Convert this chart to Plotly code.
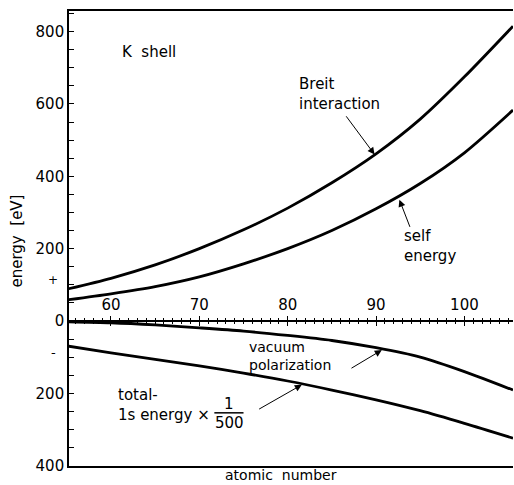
import plotly.graph_objects as go

# ---- data ----
atomic_number = [55, 60, 65, 70, 75, 80, 85, 90, 95, 100, 105.5]
breit_interaction = [88, 118, 155, 200, 252, 312, 382, 462, 558, 675, 815]
self_energy = [58, 75, 95, 122, 158, 200, 250, 310, 380, 465, 583]
vacuum_polarization = [-2, -5, -11, -19, -28, -40, -54, -74, -100, -140, -191]
total_1s_over_500 = [-69, -88, -106, -124, -144, -166, -191, -218, -248, -283, -324]

y_tickvals = [-400, -200, 0, 200, 400, 600, 800]
y_ticktext = ["400", "200", "0", "200", "400", "600", "800"]
x_tickvals = [60, 70, 80, 90, 100]

X_RANGE = [55.25, 105.5]
Y_RANGE = [-401, 857]
FONT = "DejaVu Sans"
LS = 15  # label font size

fig = go.Figure()
for series in (breit_interaction, self_energy, vacuum_polarization, total_1s_over_500):
    fig.add_trace(go.Scatter(x=atomic_number, y=series, mode="lines",
                             line=dict(color="black", width=2.8, shape="spline",
                                       smoothing=0.8),
                             showlegend=False, hoverinfo="skip"))

zero_pos = (0 - Y_RANGE[0]) / (Y_RANGE[1] - Y_RANGE[0])

fig.update_layout(
    width=514, height=485, autosize=False,
    margin=dict(l=69, r=1, t=11, b=19, pad=0),
    paper_bgcolor="white", plot_bgcolor="white",
    font=dict(family=FONT, size=LS, color="black"),
    xaxis=dict(range=X_RANGE, showgrid=False, zeroline=False, showline=True,
               mirror=True, linecolor="black", linewidth=1.5, ticks="",
               showticklabels=False),
    xaxis2=dict(range=X_RANGE, overlaying="x", anchor="free", position=zero_pos,
                side="top", showgrid=False, zeroline=False, showline=True,
                linecolor="black", linewidth=1.6, ticks="outside", ticklen=4,
                tickwidth=1.3, tickcolor="black", tickvals=x_tickvals,
                tickfont=dict(family=FONT, size=15, color="black"),
                minor=dict(dtick=1, tick0=0, ticks="outside", ticklen=2.5,
                           tickwidth=1, tickcolor="black")),
    xaxis3=dict(range=X_RANGE, overlaying="x", anchor="free", position=zero_pos,
                side="bottom", showgrid=False, zeroline=False, showline=False,
                ticks="outside", ticklen=4, tickwidth=1.3, tickcolor="black",
                tickvals=x_tickvals, showticklabels=False,
                minor=dict(dtick=1, tick0=0, ticks="outside", ticklen=2.5,
                           tickwidth=1, tickcolor="black")),
    yaxis=dict(range=Y_RANGE, showgrid=False, zeroline=False, showline=True,
               linecolor="black", linewidth=1.6, ticks="inside", ticklen=5,
               tickwidth=1.2, tickcolor="black", tickvals=y_tickvals,
               ticktext=y_ticktext,
               tickfont=dict(family=FONT, size=15, color="black"),
               minor=dict(dtick=50, tick0=0, ticks="inside", ticklen=5,
                          tickwidth=1.2, tickcolor="black")),
)
# dummy traces so overlaid axes render
fig.add_trace(go.Scatter(x=[None], y=[None], xaxis="x2", showlegend=False))
fig.add_trace(go.Scatter(x=[None], y=[None], xaxis="x3", showlegend=False))

def label(text, x, y, xanchor="left", size=LS):
    fig.add_annotation(text=text, x=x, y=y, xref="x", yref="y", showarrow=False,
                       xanchor=xanchor, yanchor="middle", align="left",
                       font=dict(family=FONT, size=size, color="black"))

label("K  shell", 61.0, 744)
label("Breit<br>interaction", 81.05, 627)
label("self<br>energy", 92.95, 208)
label("vacuum<br>polarization", 75.4, -98, size=14)
label("total-<br>1s energy ×", 60.6, -232)
label("1", 73.4, -229, xanchor="center")
label("500", 73.4, -282, xanchor="center")
fig.add_shape(type="line", x0=71.7, x1=75.0, y0=-254, y1=-254,
              xref="x", yref="y", line=dict(color="black", width=1.5))

def arrow(x_head, y_head, x_tail, y_tail):
    fig.add_annotation(x=x_head, y=y_head, ax=x_tail, ay=y_tail, xref="x", yref="y",
                       axref="x", ayref="y", text="", showarrow=True,
                       arrowhead=2, arrowsize=1.4, arrowwidth=1, arrowcolor="black",
                       standoff=1)

arrow(89.9, 458, 86.5, 570)
arrow(92.6, 338, 93.9, 256)
arrow(90.75, -79, 87.05, -133)
arrow(81.7, -175, 76.6, -246)

# sign markers left of y axis
fig.add_annotation(text="+", x=-0.036, y=113, xref="paper", yref="y", showarrow=False,
                   xanchor="center", font=dict(family=FONT, size=12, color="black"))
fig.add_annotation(text="-", x=-0.036, y=-88, xref="paper", yref="y", showarrow=False,
                   xanchor="center", font=dict(family=FONT, size=13, color="black"))

# axis titles
fig.add_annotation(text="energy  [eV]", x=-0.116, y=221, xref="paper", yref="y",
                   showarrow=False, textangle=-90, xanchor="center", yanchor="middle",
                   font=dict(family=FONT, size=LS, color="black"))
fig.add_annotation(text="atomic  number", x=79.2, y=-0.0385, xref="x", yref="paper",
                   showarrow=False, xanchor="center", yanchor="bottom", borderpad=0,
                   font=dict(family=FONT, size=14, color="black"))

fig.write_html("out.html", config={"displayModeBar": False})
